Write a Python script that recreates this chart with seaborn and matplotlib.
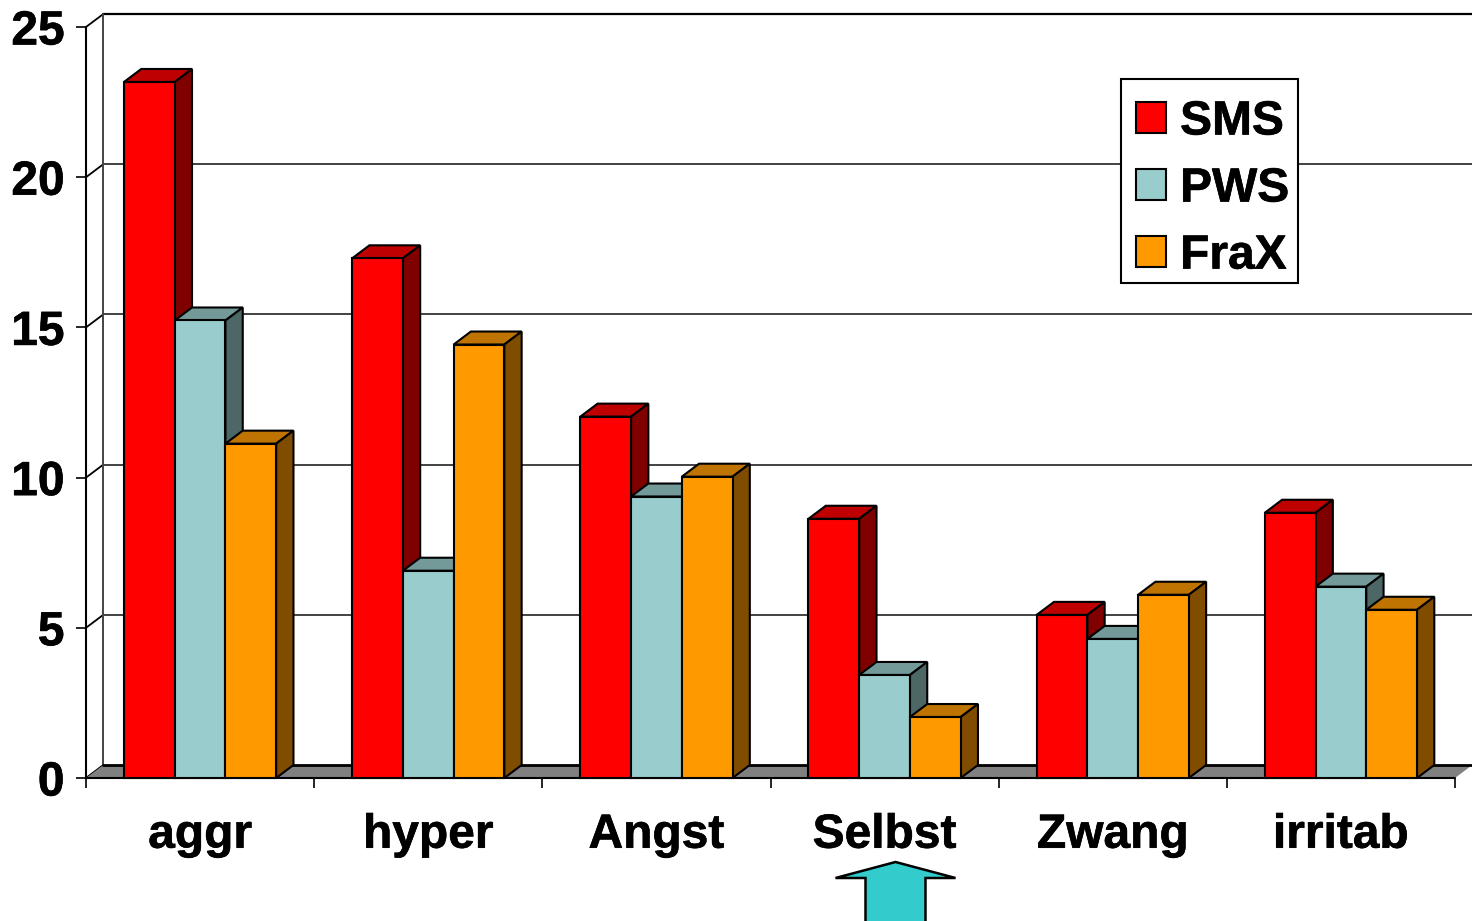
import matplotlib
matplotlib.use("Agg")
import matplotlib.pyplot as plt
import matplotlib.patheffects as pe
import numpy as np
import pandas as pd
import seaborn as sns
from matplotlib.colors import to_rgb
from matplotlib.patches import FancyArrow, Polygon, Patch, Rectangle
from matplotlib.transforms import Affine2D

# Mean scores per behaviour domain and syndrome
domains = ["aggr", "hyper", "Angst", "Selbst", "Zwang", "irritab"]
groups = ["SMS", "PWS", "FraX"]
sms_values = [23.17, 17.3, 12.03, 8.63, 5.43, 8.83]
pws_values = [15.23, 6.9, 9.37, 3.43, 4.63, 6.37]
frax_values = [11.13, 14.43, 10.03, 2.03, 6.1, 5.6]
y_ticks = [0, 5, 10, 15, 20, 25]
group_colors = ["#FF0000", "#99CCCC", "#FF9900"]

W, H = 1472, 921
FONT_SIZE = 34.5
sns.set_style("white")
plt.rcParams["font.family"] = ["Liberation Sans", "DejaVu Sans"]
plt.rcParams["font.weight"] = "bold"
plt.rcParams["text.color"] = "black"

fig = plt.figure(figsize=(W / 100, H / 100), dpi=100)
# Pixel-space transform for the overlay elements (origin top left)
to_px = Affine2D().scale(1 / W, -1 / H).translate(0, 1) + fig.transFigure
# Front plane of the box, in pixel bounds
left, right, top, bottom = 86, 1455, 27, 778
ax = fig.add_axes([left / W, 1 - bottom / H, (right - left) / W, (bottom - top) / H])

df = pd.DataFrame({
    "domain": domains * 3,
    "group": np.repeat(groups, len(domains)),
    "value": sms_values + pws_values + frax_values,
})
sns.barplot(data=df, x="domain", y="value", hue="group", order=domains, hue_order=groups,
            palette=group_colors, width=0.667, gap=0, saturation=1,
            edgecolor="black", linewidth=1.5, legend=False, ax=ax)
ax.set_xlim(-0.5, len(domains) - 0.5)
ax.set_ylim(0, 25)

# Depth of the extruded box, expressed in data units
dx = 17.3 * (len(domains)) / (right - left)
dy = 13 * 25 / (bottom - top)
x0, x1 = -0.5, len(domains) - 0.5

# Floor
ax.add_patch(Polygon([(x0, 0), (x1, 0), (x1 + dx, dy), (x0 + dx, dy)], closed=True,
                     facecolor="#808080", edgecolor="none", clip_on=False, zorder=1))
ax.plot([x0 + dx, x1 + dx], [dy, dy], color="black", lw=2.0, clip_on=False, zorder=1.1)
ax.plot([x0, x1], [0, 0], color="black", lw=1.5, clip_on=False, zorder=1.1)

# Back wall and side wall gridlines
for t in y_ticks[1:-1]:
    ax.plot([x0 + dx, x1 + dx], [t + dy, t + dy], color="#222222", lw=1.2, clip_on=False, zorder=0.8)
ax.plot([x0 + dx, x1 + dx], [25 + dy, 25 + dy], color="black", lw=1.6, clip_on=False, zorder=0.8)
for t in y_ticks:
    ax.plot([x0, x0 + dx], [t, t + dy], color="black", lw=1.3, clip_on=False, zorder=0.9)
ax.plot([x0 + dx, x0 + dx], [dy, 25 + dy], color="#444444", lw=1.4, clip_on=False, zorder=0.9)

# Extrude each bar: top and side faces are shaded versions of its colour
order = 2.0
bars = sorted([b for c in ax.containers for b in c], key=lambda b: b.get_x())
for bar in bars:
    xa, w, h = bar.get_x(), bar.get_width(), bar.get_height()
    base = np.array(to_rgb(bar.get_facecolor()[:3]))
    ax.add_patch(Polygon([(xa, h), (xa + w, h), (xa + w + dx, h + dy), (xa + dx, h + dy)],
                         closed=True, facecolor=base * 0.75, edgecolor="black", lw=1.5,
                         clip_on=False, zorder=order))
    ax.add_patch(Polygon([(xa + w, 0), (xa + w + dx, dy), (xa + w + dx, h + dy), (xa + w, h)],
                         closed=True, facecolor=base * 0.5, edgecolor="black", lw=1.5,
                         clip_on=False, zorder=order + 0.1))
    bar.set_zorder(order + 0.2)
    bar.set_clip_on(False)
    order += 1

# Axes furniture
sns.despine(ax=ax, top=True, right=True, bottom=True)
ax.spines["left"].set_linewidth(1.5)
ax.spines["left"].set_color("black")
ax.set_xlabel("")
ax.set_ylabel("")
ax.set_yticks(y_ticks)
ax.set_yticklabels([str(t) for t in y_ticks], fontsize=FONT_SIZE, fontweight="bold", color="black")
ax.set_xticks(range(len(domains)))
ax.set_xticklabels(domains, fontsize=FONT_SIZE, fontweight="bold", color="black")
ax.set_xticks(np.arange(len(domains) + 1) - 0.5, minor=True)
ax.tick_params(axis="x", which="major", length=0, pad=25)
ax.tick_params(axis="x", which="minor", length=7.5, width=1.2, color="black", bottom=True)
ax.tick_params(axis="y", length=7.5, width=1.2, color="black", left=True, pad=8)

# Legend: white framed box with the entries placed inside it
fig.add_artist(Rectangle((1121, 79), 177, 204, facecolor="white", edgecolor="black",
                         lw=1.5, transform=to_px, zorder=10))
handles = [Patch(facecolor=c, edgecolor="black", lw=1.5) for c in group_colors]
leg = fig.legend(handles, groups, loc="upper left", bbox_to_anchor=(1136 / W, 1 - 99.5 / H),
                 bbox_transform=fig.transFigure, frameon=False,
                 prop={"size": FONT_SIZE, "weight": "bold"},
                 handlelength=0.63, handleheight=0.63, handletextpad=0.29,
                 labelspacing=0.46, borderpad=0, borderaxespad=0)
leg.set_zorder(11)

# Thicken all labels slightly
heavy = [pe.withStroke(linewidth=0.45, foreground="black")]
for txt in ax.get_xticklabels() + ax.get_yticklabels() + leg.get_texts():
    txt.set_color("black")
    txt.set_path_effects(heavy)

# Up-arrow below the "Selbst" label
fig.add_artist(FancyArrow(895.5, 930, 0, -68, width=60, head_width=120, head_length=16,
                          length_includes_head=True, facecolor="#33CCCC", edgecolor="black",
                          lw=1.8, transform=to_px))

fig.savefig("out.png", dpi=100)
